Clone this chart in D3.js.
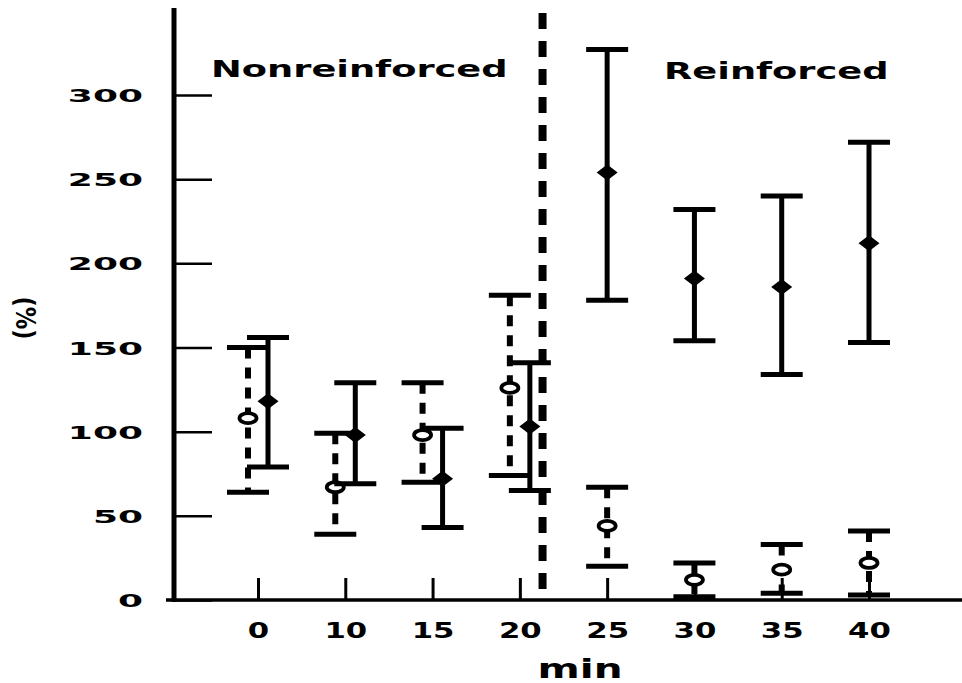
<!DOCTYPE html>
<html><head><meta charset="utf-8">
<script src="https://cdn.jsdelivr.net/npm/d3@7"></script>
<style>
html,body{margin:0;padding:0;background:#fff;}
svg{display:block;font-family:"DejaVu Sans",Verdana,sans-serif;font-weight:bold;}
</style></head><body>
<div id="chart"></div>
<script>
const minutes=[0,10,15,20,25,30,35,40];
const reinforcedFrom=25;
const solidMean=[118,98,72,103,254,191,186,212];
const solidHi=[156,129,102,141,327,232,240,272];
const solidLo=[79,69,43,65,178,154,134,153];
const openMean=[108,67,98,126,44,12,18,22];
const openHi=[150,99,129,181,67,22,33,41];
const openLo=[64,39,70,74,20,2,4,3];
const yTicks=[0,50,100,150,200,250,300];
const phaseLabels=['Nonreinforced','Reinforced'];
const xTitle='min',yTitle='(%)';

const W=962,H=683,ax=174,yTop=8;
const svg=d3.select('#chart').append('svg').attr('width',W).attr('height',H);
svg.append('rect').attr('width',W).attr('height',H).attr('fill','#fff');
const x=d3.scalePoint().domain(minutes).range([258,869]);
const y=d3.scaleLinear().domain([0,300]).range([600,95]);

// y axis
const gy=svg.append('g').attr('transform',`translate(${ax},0)`)
  .call(d3.axisLeft(y).tickValues(yTicks).tickSize(-38).tickPadding(0))
  .attr('font-family',null).attr('font-size',null);
gy.select('.domain').remove();
gy.selectAll('.tick line').attr('stroke','#000').attr('stroke-width',2.5);
gy.selectAll('.tick text').attr('x',0).attr('dy',null).attr('y',6.5).attr('font-size',18).attr('fill','#000')
  .attr('transform','translate(-31,0) scale(2,1)');

// x axis
const gx=svg.append('g').attr('transform','translate(0,600)')
  .call(d3.axisBottom(x).tickSize(-22).tickPadding(0))
  .attr('font-family',null).attr('font-size',null);
gx.select('.domain').remove();
gx.selectAll('.tick line').attr('stroke','#000').attr('stroke-width',3);
gx.selectAll('.tick text').attr('y',0).attr('dy',null).attr('font-size',20.5).attr('fill','#000')
  .attr('transform','translate(0,38) scale(1.5,1)');

// axis lines
svg.append('line').attr('x1',ax).attr('x2',ax).attr('y1',yTop).attr('y2',602).attr('stroke','#000').attr('stroke-width',5);
svg.append('line').attr('x1',166).attr('x2',W).attr('y1',600).attr('y2',600).attr('stroke','#000').attr('stroke-width',3.5);

// phase divider
const divX=x(20)+x.step()*0.26;
svg.append('line').attr('x1',divX).attr('x2',divX).attr('y1',13).attr('y2',600)
  .attr('stroke','#000').attr('stroke-width',8).attr('stroke-dasharray','16,12');

// error bars
const series=[
  {mean:openMean,hi:openHi,lo:openLo,dx:-10,dash:'11,9',open:true},
  {mean:solidMean,hi:solidHi,lo:solidLo,dx:10,dash:null,open:false}
];
series.forEach(s=>{
  const rows=minutes.map((m,i)=>({m,mean:s.mean[i],hi:s.hi[i],lo:s.lo[i],cx:x(m)+(m<reinforcedFrom?s.dx:0)}));
  const g=svg.append('g');
  g.selectAll('.bar').data(rows).join('line').attr('class','bar')
    .attr('x1',d=>d.cx).attr('x2',d=>d.cx).attr('y1',d=>y(d.hi)).attr('y2',d=>y(d.lo))
    .attr('stroke','#000').attr('stroke-width',s.open?6:5).attr('stroke-dasharray',s.dash);
  ['hi','lo'].forEach(k=>{
    g.selectAll(`.cap-${k}`).data(rows).join('line').attr('class',`cap-${k}`)
      .attr('x1',d=>d.cx-21).attr('x2',d=>d.cx+21).attr('y1',d=>y(d[k])).attr('y2',d=>y(d[k]))
      .attr('stroke','#000').attr('stroke-width',5);
  });
  if(s.open){
    g.selectAll('.mk').data(rows).join('ellipse').attr('class','mk')
      .attr('cx',d=>d.cx).attr('cy',d=>y(d.mean)).attr('rx',8.5).attr('ry',5)
      .attr('fill','#fff').attr('stroke','#000').attr('stroke-width',3.8);
  }else{
    g.selectAll('.mk').data(rows).join('path').attr('class','mk')
      .attr('transform',d=>`translate(${d.cx},${y(d.mean)})`)
      .attr('d','M0,-8L10.5,0L0,8L-10.5,0Z').attr('fill','#000');
  }
});

// labels
svg.append('text').attr('font-size',23).attr('fill','#000')
  .attr('transform','translate(211,77) scale(1.6,1)').text(phaseLabels[0]);
svg.append('text').attr('font-size',23).attr('fill','#000')
  .attr('transform','translate(664,79) scale(1.6,1)').text(phaseLabels[1]);
svg.append('text').attr('font-size',26).attr('fill','#000').attr('text-anchor','middle')
  .attr('transform','translate(580,678) scale(1.56,1)').text(xTitle);
svg.append('text').attr('font-size',22.5).attr('fill','#000').attr('text-anchor','middle')
  .attr('transform','translate(16,318) rotate(90) scale(1,1.2)').text(yTitle);
</script>
</body></html>
